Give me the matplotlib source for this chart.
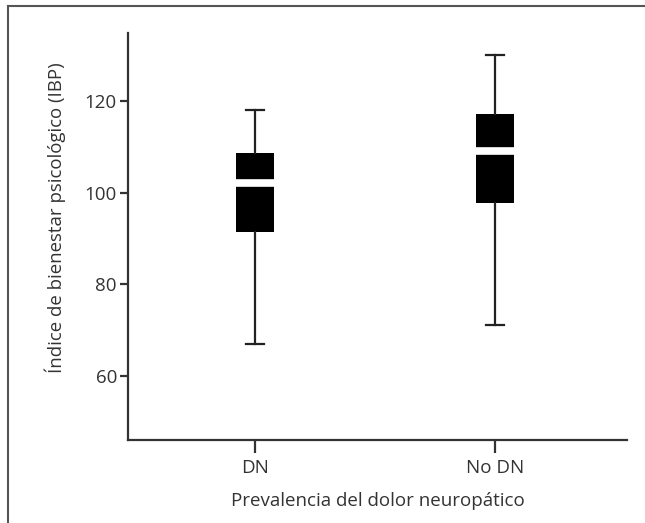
import matplotlib.pyplot as plt
from matplotlib.lines import Line2D

plt.rcParams['font.family'] = ['Open Sans', 'DejaVu Sans']

categories = ['DN', 'No DN']
whislo = [67.0, 71.0]
q1 = [91.4, 97.8]
med = [102.0, 109.0]
q3 = [108.7, 117.1]
whishi = [118.0, 130.0]

stats = []
for i, c in enumerate(categories):
    stats.append({'label': c, 'whislo': whislo[i], 'q1': q1[i], 'med': med[i],
                  'q3': q3[i], 'whishi': whishi[i], 'fliers': []})

fig = plt.figure(figsize=(6.45, 5.23), dpi=100)
ax = fig.add_axes([128/645, 1 - 440/523, (627 - 128)/645, (440 - 33)/523])

ax.bxp(stats, positions=[1, 2], widths=0.155, patch_artist=True,
       showfliers=False, capwidths=0.075,
       boxprops=dict(facecolor='black', edgecolor='none', linewidth=0),
       medianprops=dict(color='white', linewidth=5.5, solid_capstyle='butt'),
       whiskerprops=dict(color='#222222', linewidth=1.6),
       capprops=dict(color='#222222', linewidth=1.6))

ax.set_xlim(0.471, 2.55)
ax.set_ylim(46, 134.8)
ax.set_yticks([60, 80, 100, 120])
ax.set_xticks([1, 2])
ax.set_xticklabels(categories)
for s in ['top', 'right']:
    ax.spines[s].set_visible(False)
for s in ['left', 'bottom']:
    ax.spines[s].set_linewidth(1.6)
    ax.spines[s].set_color('#333333')
ax.tick_params(axis='both', colors='#333333', labelcolor='#333333',
               labelsize=13.5, width=1.6)
ax.tick_params(axis='y', length=6, pad=2)
ax.tick_params(axis='x', length=9, pad=5)
ax.set_ylabel('Índice de bienestar psicológico (IBP)', fontsize=13.4, color='#333333')
ax.yaxis.set_label_coords(-0.124, 0.545)
ax.set_xlabel('Prevalencia del dolor neuropático', fontsize=13.5, color='#333333')
ax.xaxis.set_label_coords(0.5, -0.128)

# outer frame (top and left)
fig.add_artist(Line2D([8/645, 8/645], [0, 1 - 6/523], transform=fig.transFigure, color='#555555', lw=1.5))
fig.add_artist(Line2D([8/645, 1], [1 - 6/523, 1 - 6/523], transform=fig.transFigure, color='#555555', lw=1.5))

fig.savefig('out.png', dpi=100)
